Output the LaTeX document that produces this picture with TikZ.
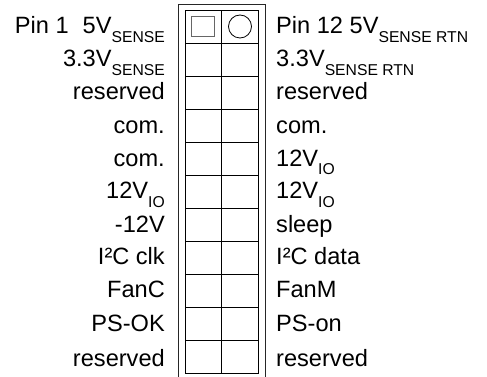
\documentclass[tikz,border=0pt]{standalone}
\usepackage{fontspec}
\setmainfont{Liberation Sans}
\newcommand{\lowtxt}[1]{\raisebox{-8.5pt}{\fontsize{15.7}{18}\selectfont #1}}

\begin{document}
\begin{tikzpicture}[x=1pt,y=-1pt,
    lbl/.style={inner sep=0pt,font=\fontsize{23.6}{28}\selectfont}]
  \useasboundingbox (0,0) rectangle (487,377);

  % outer housing, open at the bottom
  \coordinate (fa) at (178.5,377);
  \coordinate (fb) at (178.5,4.5);
  \coordinate (fc) at (265.5,4.5);
  \coordinate (fd) at (265.5,377);
  \draw[line width=1pt,black!85] (fa)--(fb)--(fc)--(fd);

  % pin grid
  \coordinate (g1) at (185.5,10.5);
  \coordinate (g2) at (258.5,373.5);
  \draw[line width=1.2pt] (g1) rectangle (g2);
  \draw[line width=1.2pt] (221.5,10.5)--(221.5,373.5);
  \draw[line width=1.2pt] (185.5,43.5)--(258.5,43.5);
  \draw[line width=1.2pt] (185.5,76.5)--(258.5,76.5);
  \draw[line width=1.2pt] (185.5,109.5)--(258.5,109.5);
  \draw[line width=1.2pt] (185.5,142.5)--(258.5,142.5);
  \draw[line width=1.2pt] (185.5,175.5)--(258.5,175.5);
  \draw[line width=1.2pt] (185.5,208.5)--(258.5,208.5);
  \draw[line width=1.2pt] (185.5,241.5)--(258.5,241.5);
  \draw[line width=1.2pt] (185.5,274.5)--(258.5,274.5);
  \draw[line width=1.2pt] (185.5,307.5)--(258.5,307.5);
  \draw[line width=1.2pt] (185.5,340.5)--(258.5,340.5);

  % pin 1 and pin 12 marks
  \draw[line width=1pt,black!60] (191.5,16.5) rectangle (214.5,36.5);
  \draw[line width=0.8pt] (240,26.5) circle (11.5pt);

  \node[lbl,anchor=base east] (l1) at (165,34) {Pin 1\hspace{14pt}5V\lowtxt{SENSE}};
  \node[lbl,anchor=base east] (l2) at (165,67) {3.3V\lowtxt{SENSE}};
  \node[lbl,anchor=base east] (l3) at (165,100) {reserved};
  \node[lbl,anchor=base east] (l4) at (165,133) {com.};
  \node[lbl,anchor=base east] (l5) at (165,166) {com.};
  \node[lbl,anchor=base east] (l6) at (165,198.5) {12V\lowtxt{IO}};
  \node[lbl,anchor=base east] (l7) at (165,232) {-12V};
  \node[lbl,anchor=base east] (l8) at (165,264.5) {I²C clk};
  \node[lbl,anchor=base east] (l9) at (165,297) {FanC};
  \node[lbl,anchor=base east] (l10) at (165,331) {PS-OK};
  \node[lbl,anchor=base east] (l11) at (165,366.5) {reserved};

  \node[lbl,anchor=base west] (r1) at (276,34) {Pin 12 5V\lowtxt{SENSE RTN}};
  \node[lbl,anchor=base west] (r2) at (276,67) {3.3V\lowtxt{SENSE RTN}};
  \node[lbl,anchor=base west] (r3) at (276,100) {reserved};
  \node[lbl,anchor=base west] (r4) at (276,133) {com.};
  \node[lbl,anchor=base west] (r5) at (276,166) {12V\lowtxt{IO}};
  \node[lbl,anchor=base west] (r6) at (276,198.5) {12V\lowtxt{IO}};
  \node[lbl,anchor=base west] (r7) at (276,232) {sleep};
  \node[lbl,anchor=base west] (r8) at (276,264.5) {I²C data};
  \node[lbl,anchor=base west] (r9) at (276,297) {FanM};
  \node[lbl,anchor=base west] (r10) at (276,331) {PS-on};
  \node[lbl,anchor=base west] (r11) at (276,366.5) {reserved};
\end{tikzpicture}
\end{document}
